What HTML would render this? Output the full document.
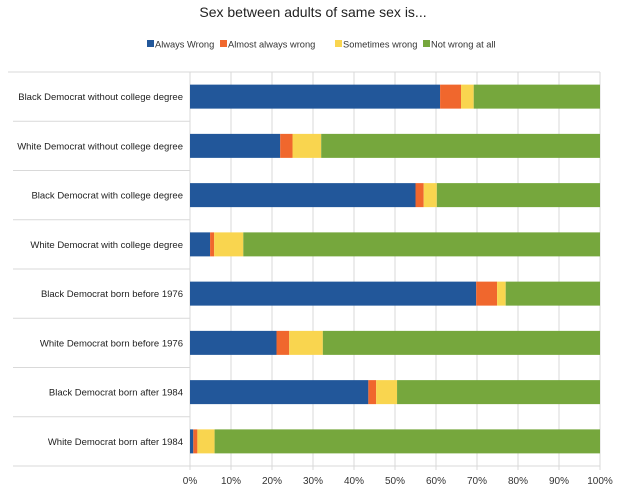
<!DOCTYPE html>
<html><head><meta charset="utf-8"><style>
body{margin:0;background:#fff;font-family:"Liberation Sans",sans-serif;overflow:hidden;}
svg{display:block;}
</style></head><body>
<svg id="c" width="625" height="486" xmlns="http://www.w3.org/2000/svg">
<text x="313" y="17" text-anchor="middle" font-size="14" fill="#222">Sex between adults of same sex is...</text>
<g id="legend"></g>
<g id="grid"></g>
<g id="bars"></g>
<g id="labels"></g>
<g id="ticks"></g>
</svg>
<script>
const categories=["Black Democrat without college degree","White Democrat without college degree","Black Democrat with college degree","White Democrat with college degree","Black Democrat born before 1976","White Democrat born before 1976","Black Democrat born after 1984","White Democrat born after 1984"];
const seriesNames=["Always Wrong","Almost always wrong","Sometimes wrong","Not wrong at all"];
const alwaysWrong=[61,22,55,4.9,69.8,21.1,43.5,0.8];
const almostAlways=[5.1,3,2,1,5.1,3.1,1.9,1];
const sometimes=[3.1,7,3.2,7.1,2.1,8.2,5.1,4.2];
const notWrong=[30.8,68,39.8,87,23,67.6,49.5,94];
const xTicks=[0,10,20,30,40,50,60,70,80,90,100];
const colors=["#22579a","#f0672d","#f9d54f","#76a73d"];
const NS="http://www.w3.org/2000/svg";
const x0=190,x1=600,yTop=72,yBot=466;
const xs=v=>x0+(x1-x0)*v/100;
const rowH=(yBot-yTop)/categories.length;
const yc=i=>yTop+rowH*(i+0.5);
function mk(tag,attrs,parent){const e=document.createElementNS(NS,tag);for(const k in attrs)e.setAttribute(k,attrs[k]);document.getElementById(parent).appendChild(e);return e;}
const lx=[147,220,335,423];
seriesNames.forEach((n,i)=>{
 const r=mk('rect',{x:lx[i],y:40,width:7,height:7,fill:colors[i]},'legend');
 
 
 const t=mk('text',{x:lx[i]+8,y:47.5,'font-size':9.3,fill:'#333'},'legend');
 t.textContent=n;
 
 
});
xTicks.forEach(v=>{
 const l=mk('line',{x1:xs(v),x2:xs(v),y1:yTop,y2:yBot+4,stroke:'#d9d9d9','stroke-width':1},'grid');
 
 
 const t=mk('text',{x:xs(v),y:484,'text-anchor':'middle','font-size':10,fill:'#333'},'ticks');
 t.textContent=v+'%';
 
 
});
mk('line',{x1:8,x2:x1,y1:yTop,y2:yTop,stroke:'#d9d9d9'},'grid');
for(let i=1;i<=categories.length;i++){
 mk('line',{x1:13,x2:x0,y1:yTop+rowH*i,y2:yTop+rowH*i,stroke:'#d9d9d9'},'grid');
}
mk('line',{x1:x0,x2:x1,y1:yBot,y2:yBot,stroke:'#d9d9d9'},'grid');
const series=[alwaysWrong,almostAlways,sometimes,notWrong];
categories.forEach((c,i)=>{
 let acc=0;
 series.forEach((s,j)=>{
  const r=mk('rect',{x:xs(acc),y:yc(i)-12,width:xs(acc+s[i])-xs(acc),height:24,fill:colors[j]},'bars');
  
  
  acc+=s[i];
 });
 const t=mk('text',{x:183,y:yc(i)+3.5,'text-anchor':'end','font-size':9.5,fill:'#222'},'labels');
 t.textContent=c;
 
 
});
</script>
</body></html>
